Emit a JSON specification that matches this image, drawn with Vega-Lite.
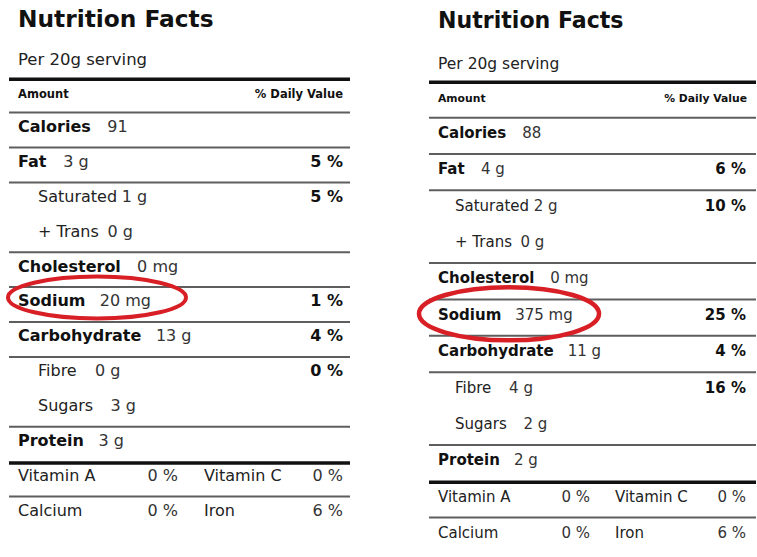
{
  "$schema": "https://vega.github.io/schema/vega-lite/v6.json",
  "padding": 0,
  "spacing": 0,
  "background": "white",
  "config": {"view": {"stroke": null}, "text": {"font": "DejaVu Sans"}},
  "datasets": {
    "headers": [
      {"product": "A", "row": 0, "kind": "title", "text": "Nutrition Facts"},
      {"product": "A", "row": 1, "kind": "serving", "text": "Per 20g serving"},
      {"product": "A", "row": 2, "kind": "amount", "text": "Amount"},
      {"product": "A", "row": 2, "kind": "dv", "text": "% Daily Value"},
      {"product": "B", "row": 0, "kind": "title", "text": "Nutrition Facts"},
      {"product": "B", "row": 1, "kind": "serving", "text": "Per 20g serving"},
      {"product": "B", "row": 2, "kind": "amount", "text": "Amount"},
      {"product": "B", "row": 2, "kind": "dv", "text": "% Daily Value"}
    ],
    "nutrition": [
      {"product": "A", "row": 3, "kind": "main", "nutrient": "Calories", "amount": "91", "dv": null},
      {"product": "A", "row": 4, "kind": "main", "nutrient": "Fat", "amount": "3 g", "dv": "5 %"},
      {"product": "A", "row": 5, "kind": "sub", "nutrient": "Saturated", "amount": "1 g", "dv": "5 %"},
      {"product": "A", "row": 6, "kind": "sub", "nutrient": "+ Trans", "amount": "0 g", "dv": null},
      {"product": "A", "row": 7, "kind": "main", "nutrient": "Cholesterol", "amount": "0 mg", "dv": null},
      {"product": "A", "row": 8, "kind": "main", "nutrient": "Sodium", "amount": "20 mg", "dv": "1 %", "highlight": true},
      {"product": "A", "row": 9, "kind": "main", "nutrient": "Carbohydrate", "amount": "13 g", "dv": "4 %"},
      {"product": "A", "row": 10, "kind": "sub", "nutrient": "Fibre", "amount": "0 g", "dv": "0 %"},
      {"product": "A", "row": 11, "kind": "sub", "nutrient": "Sugars", "amount": "3 g", "dv": null},
      {"product": "A", "row": 12, "kind": "main", "nutrient": "Protein", "amount": "3 g", "dv": null},
      {"product": "A", "row": 13, "kind": "micro", "side": "left", "nutrient": "Vitamin A", "dv": "0 %"},
      {"product": "A", "row": 13, "kind": "micro", "side": "right", "nutrient": "Vitamin C", "dv": "0 %"},
      {"product": "A", "row": 14, "kind": "micro", "side": "left", "nutrient": "Calcium", "dv": "0 %"},
      {"product": "A", "row": 14, "kind": "micro", "side": "right", "nutrient": "Iron", "dv": "6 %"},
      {"product": "B", "row": 3, "kind": "main", "nutrient": "Calories", "amount": "88", "dv": null},
      {"product": "B", "row": 4, "kind": "main", "nutrient": "Fat", "amount": "4 g", "dv": "6 %"},
      {"product": "B", "row": 5, "kind": "sub", "nutrient": "Saturated", "amount": "2 g", "dv": "10 %"},
      {"product": "B", "row": 6, "kind": "sub", "nutrient": "+ Trans", "amount": "0 g", "dv": null},
      {"product": "B", "row": 7, "kind": "main", "nutrient": "Cholesterol", "amount": "0 mg", "dv": null},
      {"product": "B", "row": 8, "kind": "main", "nutrient": "Sodium", "amount": "375 mg", "dv": "25 %", "highlight": true},
      {"product": "B", "row": 9, "kind": "main", "nutrient": "Carbohydrate", "amount": "11 g", "dv": "4 %"},
      {"product": "B", "row": 10, "kind": "sub", "nutrient": "Fibre", "amount": "4 g", "dv": "16 %"},
      {"product": "B", "row": 11, "kind": "sub", "nutrient": "Sugars", "amount": "2 g", "dv": null},
      {"product": "B", "row": 12, "kind": "main", "nutrient": "Protein", "amount": "2 g", "dv": null},
      {"product": "B", "row": 13, "kind": "micro", "side": "left", "nutrient": "Vitamin A", "dv": "0 %"},
      {"product": "B", "row": 13, "kind": "micro", "side": "right", "nutrient": "Vitamin C", "dv": "0 %"},
      {"product": "B", "row": 14, "kind": "micro", "side": "left", "nutrient": "Calcium", "dv": "0 %"},
      {"product": "B", "row": 14, "kind": "micro", "side": "right", "nutrient": "Iron", "dv": "6 %"}
    ],
    "rules": [
      {"product": "A", "row": 1, "weight": "thick"},
      {"product": "A", "row": 2, "weight": "thin"},
      {"product": "A", "row": 3, "weight": "thin"},
      {"product": "A", "row": 4, "weight": "thin"},
      {"product": "A", "row": 6, "weight": "thin"},
      {"product": "A", "row": 7, "weight": "thin"},
      {"product": "A", "row": 8, "weight": "thin"},
      {"product": "A", "row": 9, "weight": "thin"},
      {"product": "A", "row": 11, "weight": "thin"},
      {"product": "A", "row": 12, "weight": "thick"},
      {"product": "A", "row": 13, "weight": "thin"},
      {"product": "B", "row": 1, "weight": "thick"},
      {"product": "B", "row": 2, "weight": "thin"},
      {"product": "B", "row": 3, "weight": "thin"},
      {"product": "B", "row": 4, "weight": "thin"},
      {"product": "B", "row": 6, "weight": "thin"},
      {"product": "B", "row": 7, "weight": "thin"},
      {"product": "B", "row": 8, "weight": "thin"},
      {"product": "B", "row": 9, "weight": "thin"},
      {"product": "B", "row": 11, "weight": "thin"},
      {"product": "B", "row": 12, "weight": "thick"},
      {"product": "B", "row": 13, "weight": "thin"}
    ]
  },
  "resolve": {"scale": {"x": "independent", "y": "independent"}},
  "hconcat": [
    {
      "width": 380,
      "height": 557,
      "encoding": {
        "y": {"field": "row", "type": "quantitative", "scale": {"domain": [-0.639, 15.321], "reverse": true, "nice": false, "zero": false}, "axis": null}
      },
      "layer": [
        {
          "data": {"name": "headers"},
          "transform": [{"filter": "datum.product=='A' && datum.kind=='title'"}],
          "mark": {"type": "text", "font": "DejaVu Sans", "fontWeight": "bold", "fontSize": 23.3, "align": "left", "baseline": "middle", "dy": -2.3, "color": "#111"},
          "encoding": {"x": {"datum": 17, "type": "quantitative", "scale": {"domain": [0, 380], "nice": false, "zero": false}, "axis": null}, "text": {"field": "text"}}
        },
        {
          "data": {"name": "headers"},
          "transform": [{"filter": "datum.product=='A' && datum.kind=='serving'"}],
          "mark": {"type": "text", "font": "DejaVu Sans", "fontSize": 16.5, "align": "left", "baseline": "middle", "dy": 2.5, "color": "#222"},
          "encoding": {"x": {"datum": 17, "type": "quantitative"}, "text": {"field": "text"}}
        },
        {
          "data": {"name": "headers"},
          "transform": [{"filter": "datum.product=='A' && datum.kind=='amount'"}],
          "mark": {"type": "text", "font": "DejaVu Sans", "fontWeight": "bold", "fontSize": 11.5, "align": "left", "baseline": "middle", "dy": 3, "color": "#111"},
          "encoding": {"x": {"datum": 17, "type": "quantitative"}, "text": {"field": "text"}}
        },
        {
          "data": {"name": "headers"},
          "transform": [{"filter": "datum.product=='A' && datum.kind=='dv'"}],
          "mark": {"type": "text", "font": "DejaVu Sans", "fontWeight": "bold", "fontSize": 11.5, "align": "right", "baseline": "middle", "dy": 3, "color": "#111"},
          "encoding": {"x": {"datum": 342, "type": "quantitative"}, "text": {"field": "text"}}
        },
        {
          "data": {"name": "rules"},
          "transform": [{"filter": "datum.product=='A' && datum.weight=='thin'"}],
          "mark": {"type": "rule", "strokeWidth": 2, "color": "#5e5e5e", "yOffset": 20.5, "strokeCap": "butt"},
          "encoding": {"x": {"datum": 8, "type": "quantitative"}, "x2": {"datum": 349}}
        },
        {
          "data": {"name": "rules"},
          "transform": [{"filter": "datum.product=='A' && datum.weight=='thick'"}],
          "mark": {"type": "rule", "strokeWidth": 3.5, "color": "#111", "yOffset": 22, "strokeCap": "butt"},
          "encoding": {"x": {"datum": 8, "type": "quantitative"}, "x2": {"datum": 349}}
        },
        {
          "data": {"name": "nutrition"},
          "transform": [{"filter": "datum.product=='A' && datum.kind=='main'"}],
          "mark": {"type": "text", "font": "DejaVu Sans", "fontWeight": "bold", "fontSize": 16, "align": "left", "baseline": "middle", "color": "#111"},
          "encoding": {"x": {"datum": 17, "type": "quantitative"}, "text": {"field": "nutrient"}}
        },
        {
          "data": {"name": "nutrition"},
          "transform": [{"filter": "datum.product=='A' && datum.kind=='sub'"}],
          "mark": {"type": "text", "font": "DejaVu Sans", "fontSize": 16, "align": "left", "baseline": "middle", "color": "#222"},
          "encoding": {"x": {"datum": 37, "type": "quantitative"}, "text": {"field": "nutrient"}}
        },
        {
          "data": {"name": "nutrition"},
          "transform": [
            {"filter": "datum.product=='A' && (datum.kind=='main' || datum.kind=='sub')"},
            {"calculate": "length(datum.nutrient)", "as": "n"},
            {"calculate": "length(replace(datum.nutrient, regexp('[^il]','g'), ''))", "as": "nil"},
            {"calculate": "length(replace(datum.nutrient, regexp('[^frt]','g'), ''))", "as": "nfrt"},
            {"calculate": "length(replace(datum.nutrient, regexp('[^m]','g'), ''))", "as": "nm"},
            {"calculate": "length(replace(datum.nutrient, regexp('[^ ]','g'), ''))", "as": "nsp"},
            {"calculate": "length(replace(datum.nutrient, regexp('[^+]','g'), ''))", "as": "npl"},
            {"calculate": "datum.kind=='main' ? 0.69*datum.n-0.347*datum.nil-0.21*datum.nfrt+0.35*datum.nm-0.342*datum.nsp : 0.62*datum.n-0.342*datum.nil-0.22*datum.nfrt+0.35*datum.nm-0.302*datum.nsp+0.218*datum.npl", "as": "em"},
            {"calculate": "datum.kind=='main' ? 17+16*datum.em+15.5 : 37+16*datum.em+(test(regexp('Saturated|Trans'), datum.nutrient) ? 5 : 16.5)", "as": "ax"}
          ],
          "mark": {"type": "text", "font": "DejaVu Sans", "fontSize": 16, "align": "left", "baseline": "middle", "color": "#333"},
          "encoding": {"x": {"field": "ax", "type": "quantitative"}, "text": {"field": "amount"}}
        },
        {
          "data": {"name": "nutrition"},
          "transform": [{"filter": "datum.product=='A' && datum.kind!='micro' && datum.dv != null"}],
          "mark": {"type": "text", "font": "DejaVu Sans", "fontWeight": "bold", "fontSize": 16, "align": "right", "baseline": "middle", "color": "#111"},
          "encoding": {"x": {"datum": 342, "type": "quantitative"}, "text": {"field": "dv"}}
        },
        {
          "data": {"name": "nutrition"},
          "transform": [
            {"filter": "datum.product=='A' && datum.kind=='micro'"},
            {"calculate": "datum.side=='left' ? 17 : 203", "as": "nx"}
          ],
          "mark": {"type": "text", "font": "DejaVu Sans", "fontSize": 16, "align": "left", "baseline": "middle", "color": "#222"},
          "encoding": {"x": {"field": "nx", "type": "quantitative"}, "text": {"field": "nutrient"}}
        },
        {
          "data": {"name": "nutrition"},
          "transform": [
            {"filter": "datum.product=='A' && datum.kind=='micro'"},
            {"calculate": "datum.side=='left' ? 177 : 342", "as": "px"}
          ],
          "mark": {"type": "text", "font": "DejaVu Sans", "fontSize": 16, "align": "right", "baseline": "middle", "color": "#333"},
          "encoding": {"x": {"field": "px", "type": "quantitative"}, "text": {"field": "dv"}}
        },
        {
          "data": {"name": "nutrition"},
          "transform": [{"filter": "datum.product=='A' && datum.highlight == true"}],
          "mark": {"type": "point", "shape": "M-1,0C-1,-0.13,-0.552,-0.235,0,-0.235C0.552,-0.235,1,-0.13,1,0C1,0.13,0.552,0.235,0,0.235C-0.552,0.235,-1,0.13,-1,0Z", "size": 31684, "filled": false, "strokeWidth": 4, "color": "#d81f26", "opacity": 1, "yOffset": -4},
          "encoding": {"x": {"datum": 96, "type": "quantitative"}}
        }
      ]
    },
    {
      "width": 377,
      "height": 557,
      "encoding": {
        "y": {"field": "row", "type": "quantitative", "scale": {"domain": [-0.658, 14.661], "reverse": true, "nice": false, "zero": false}, "axis": null}
      },
      "layer": [
        {
          "data": {"name": "headers"},
          "transform": [{"filter": "datum.product=='B' && datum.kind=='title'"}],
          "mark": {"type": "text", "font": "DejaVu Sans", "fontWeight": "bold", "fontSize": 22.1, "align": "left", "baseline": "middle", "dy": -2.5, "color": "#111"},
          "encoding": {"x": {"datum": 437, "type": "quantitative", "scale": {"domain": [380, 757], "nice": false, "zero": false}, "axis": null}, "text": {"field": "text"}}
        },
        {
          "data": {"name": "headers"},
          "transform": [{"filter": "datum.product=='B' && datum.kind=='serving'"}],
          "mark": {"type": "text", "font": "DejaVu Sans", "fontSize": 15.5, "align": "left", "baseline": "middle", "dy": 4, "color": "#222"},
          "encoding": {"x": {"datum": 437, "type": "quantitative"}, "text": {"field": "text"}}
        },
        {
          "data": {"name": "headers"},
          "transform": [{"filter": "datum.product=='B' && datum.kind=='amount'"}],
          "mark": {"type": "text", "font": "DejaVu Sans", "fontWeight": "bold", "fontSize": 10.8, "align": "left", "baseline": "middle", "dy": 2, "color": "#111"},
          "encoding": {"x": {"datum": 437, "type": "quantitative"}, "text": {"field": "text"}}
        },
        {
          "data": {"name": "headers"},
          "transform": [{"filter": "datum.product=='B' && datum.kind=='dv'"}],
          "mark": {"type": "text", "font": "DejaVu Sans", "fontWeight": "bold", "fontSize": 10.8, "align": "right", "baseline": "middle", "dy": 2, "color": "#111"},
          "encoding": {"x": {"datum": 746, "type": "quantitative"}, "text": {"field": "text"}}
        },
        {
          "data": {"name": "rules"},
          "transform": [{"filter": "datum.product=='B' && datum.weight=='thin'"}],
          "mark": {"type": "rule", "strokeWidth": 2, "color": "#5e5e5e", "yOffset": 21, "strokeCap": "butt"},
          "encoding": {"x": {"datum": 428, "type": "quantitative"}, "x2": {"datum": 755}}
        },
        {
          "data": {"name": "rules"},
          "transform": [{"filter": "datum.product=='B' && datum.weight=='thick'"}],
          "mark": {"type": "rule", "strokeWidth": 3.5, "color": "#111", "yOffset": 22, "strokeCap": "butt"},
          "encoding": {"x": {"datum": 428, "type": "quantitative"}, "x2": {"datum": 755}}
        },
        {
          "data": {"name": "nutrition"},
          "transform": [{"filter": "datum.product=='B' && datum.kind=='main'"}],
          "mark": {"type": "text", "font": "DejaVu Sans", "fontWeight": "bold", "fontSize": 15, "align": "left", "baseline": "middle", "color": "#111"},
          "encoding": {"x": {"datum": 437, "type": "quantitative"}, "text": {"field": "nutrient"}}
        },
        {
          "data": {"name": "nutrition"},
          "transform": [{"filter": "datum.product=='B' && datum.kind=='sub'"}],
          "mark": {"type": "text", "font": "DejaVu Sans", "fontSize": 15, "align": "left", "baseline": "middle", "color": "#222"},
          "encoding": {"x": {"datum": 454, "type": "quantitative"}, "text": {"field": "nutrient"}}
        },
        {
          "data": {"name": "nutrition"},
          "transform": [
            {"filter": "datum.product=='B' && (datum.kind=='main' || datum.kind=='sub')"},
            {"calculate": "length(datum.nutrient)", "as": "n"},
            {"calculate": "length(replace(datum.nutrient, regexp('[^il]','g'), ''))", "as": "nil"},
            {"calculate": "length(replace(datum.nutrient, regexp('[^frt]','g'), ''))", "as": "nfrt"},
            {"calculate": "length(replace(datum.nutrient, regexp('[^m]','g'), ''))", "as": "nm"},
            {"calculate": "length(replace(datum.nutrient, regexp('[^ ]','g'), ''))", "as": "nsp"},
            {"calculate": "length(replace(datum.nutrient, regexp('[^+]','g'), ''))", "as": "npl"},
            {"calculate": "datum.kind=='main' ? 0.69*datum.n-0.347*datum.nil-0.21*datum.nfrt+0.35*datum.nm-0.342*datum.nsp : 0.62*datum.n-0.342*datum.nil-0.22*datum.nfrt+0.35*datum.nm-0.302*datum.nsp+0.218*datum.npl", "as": "em"},
            {"calculate": "datum.kind=='main' ? 437+15*datum.em+15 : 454+15*datum.em+(test(regexp('Saturated|Trans'), datum.nutrient) ? 5 : 16)", "as": "ax"}
          ],
          "mark": {"type": "text", "font": "DejaVu Sans", "fontSize": 15, "align": "left", "baseline": "middle", "color": "#333"},
          "encoding": {"x": {"field": "ax", "type": "quantitative"}, "text": {"field": "amount"}}
        },
        {
          "data": {"name": "nutrition"},
          "transform": [{"filter": "datum.product=='B' && datum.kind!='micro' && datum.dv != null"}],
          "mark": {"type": "text", "font": "DejaVu Sans", "fontWeight": "bold", "fontSize": 15, "align": "right", "baseline": "middle", "color": "#111"},
          "encoding": {"x": {"datum": 745, "type": "quantitative"}, "text": {"field": "dv"}}
        },
        {
          "data": {"name": "nutrition"},
          "transform": [
            {"filter": "datum.product=='B' && datum.kind=='micro'"},
            {"calculate": "datum.side=='left' ? 437 : 614", "as": "nx"}
          ],
          "mark": {"type": "text", "font": "DejaVu Sans", "fontSize": 15, "align": "left", "baseline": "middle", "color": "#222"},
          "encoding": {"x": {"field": "nx", "type": "quantitative"}, "text": {"field": "nutrient"}}
        },
        {
          "data": {"name": "nutrition"},
          "transform": [
            {"filter": "datum.product=='B' && datum.kind=='micro'"},
            {"calculate": "datum.side=='left' ? 589 : 745", "as": "px"}
          ],
          "mark": {"type": "text", "font": "DejaVu Sans", "fontSize": 15, "align": "right", "baseline": "middle", "color": "#333"},
          "encoding": {"x": {"field": "px", "type": "quantitative"}, "text": {"field": "dv"}}
        },
        {
          "data": {"name": "nutrition"},
          "transform": [{"filter": "datum.product=='B' && datum.highlight == true"}],
          "mark": {"type": "point", "shape": "M-1,0C-1,-0.163,-0.552,-0.295,0,-0.295C0.552,-0.295,1,-0.163,1,0C1,0.163,0.552,0.295,0,0.295C-0.552,0.295,-1,0.163,-1,0Z", "size": 32400, "filled": false, "strokeWidth": 4.5, "color": "#d81f26", "opacity": 1, "yOffset": -1},
          "encoding": {"x": {"datum": 508, "type": "quantitative"}}
        }
      ]
    }
  ]
}
